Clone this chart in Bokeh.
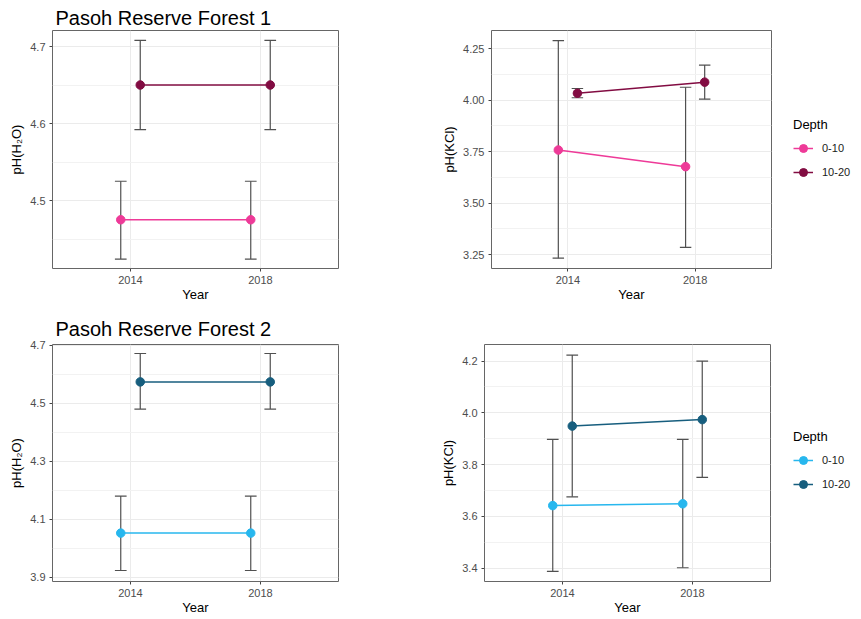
from bokeh.plotting import figure
from bokeh.layouts import column, row
from bokeh.models import (FixedTicker, NumeralTickFormatter, Range1d, Legend, LegendItem)
from bokeh.embed import file_html
from bokeh.resources import INLINE

# ---------------- data ----------------
years = [2014, 2018]
depths = ["0-10", "10-20"]

# Forest 1, pH(H2O)
f1_h2o_mean_0_10 = [4.475, 4.475]
f1_h2o_lo_0_10 = [4.424, 4.424]
f1_h2o_hi_0_10 = [4.525, 4.525]
f1_h2o_mean_10_20 = [4.650, 4.650]
f1_h2o_lo_10_20 = [4.592, 4.592]
f1_h2o_hi_10_20 = [4.708, 4.708]

# Forest 1, pH(KCl)
f1_kcl_mean_0_10 = [3.758, 3.677]
f1_kcl_lo_0_10 = [3.232, 3.285]
f1_kcl_hi_0_10 = [4.290, 4.063]
f1_kcl_mean_10_20 = [4.034, 4.088]
f1_kcl_lo_10_20 = [4.012, 4.005]
f1_kcl_hi_10_20 = [4.057, 4.171]

# Forest 2, pH(H2O)
f2_h2o_mean_0_10 = [4.052, 4.052]
f2_h2o_lo_0_10 = [3.923, 3.923]
f2_h2o_hi_0_10 = [4.180, 4.180]
f2_h2o_mean_10_20 = [4.574, 4.574]
f2_h2o_lo_10_20 = [4.480, 4.480]
f2_h2o_hi_10_20 = [4.672, 4.672]

# Forest 2, pH(KCl)
f2_kcl_mean_0_10 = [3.642, 3.649]
f2_kcl_lo_0_10 = [3.388, 3.402]
f2_kcl_hi_0_10 = [3.898, 3.898]
f2_kcl_mean_10_20 = [3.949, 3.974]
f2_kcl_lo_10_20 = [3.676, 3.751]
f2_kcl_hi_10_20 = [4.223, 4.200]

f1_h2o_ticks = [4.5, 4.6, 4.7]
f1_h2o_minor = [4.45, 4.55, 4.65]
f1_kcl_ticks = [3.25, 3.50, 3.75, 4.00, 4.25]
f1_kcl_minor = [3.375, 3.625, 3.875, 4.125]
f2_h2o_ticks = [3.9, 4.1, 4.3, 4.5, 4.7]
f2_h2o_minor = [4.0, 4.2, 4.4, 4.6]
f2_kcl_ticks = [3.4, 3.6, 3.8, 4.0, 4.2]
f2_kcl_minor = [3.5, 3.7, 3.9, 4.1]

titles = ["Pasoh Reserve Forest 1", "Pasoh Reserve Forest 2"]
colors_f1 = ["#EE3A98", "#820C42"]
colors_f2 = ["#27B7EE", "#175E7E"]

# ---------------- style ----------------
FONT = "Liberation Sans"
DODGE = 0.3
CAP = 0.36
ERR_COLOR = "#505050"
X_RANGE = (2011.6, 2020.4)
LINE_W = 1.5
PT_SIZE = 8.5


def make_fig(width, height, left, right, top, bottom, yrange, ticks, minor, fmt, ylabel):
    p = figure(width=width, height=height, output_backend="svg", toolbar_location=None,
               x_range=Range1d(*X_RANGE), y_range=Range1d(*yrange),
               min_border_left=left, min_border_right=right,
               min_border_top=top, min_border_bottom=bottom)
    p.outline_line_color = "#666666"
    p.outline_line_width = 1
    p.background_fill_color = "white"
    p.border_fill_color = "white"
    p.xaxis.ticker = FixedTicker(ticks=years)
    p.yaxis.ticker = FixedTicker(ticks=ticks, minor_ticks=minor)
    p.yaxis.formatter = NumeralTickFormatter(format=fmt)
    for ax in (p.xaxis[0], p.yaxis[0]):
        ax.axis_line_color = None
        ax.major_tick_line_color = "#444444"
        ax.major_tick_out = 3
        ax.major_tick_in = 0
        ax.minor_tick_line_color = None
        ax.major_label_text_font = FONT
        ax.major_label_text_font_size = "11px"
        ax.major_label_text_color = "#4D4D4D"
        ax.axis_label_text_font = FONT
        ax.axis_label_text_font_size = "13px"
        ax.axis_label_text_font_style = "normal"
        ax.axis_label_text_color = "black"
    p.xaxis.major_label_standoff = 4
    p.xaxis.axis_label_standoff = 0
    p.yaxis.major_label_standoff = 3
    p.yaxis.axis_label_standoff = 3
    p.xaxis.axis_label = "Year"
    p.yaxis.axis_label = ylabel
    p.xgrid.grid_line_color = "#EBEBEB"
    p.ygrid.grid_line_color = "#EBEBEB"
    p.ygrid.minor_grid_line_color = "#F2F2F2"
    p.ygrid.minor_grid_line_width = 1
    return p


def draw(p, means, los, his, colors, offsets):
    items = []
    for mean, lo, hi, col, off in zip(means, los, his, colors, offsets):
        xs = [y + off for y in years]
        p.segment(x0=xs, y0=lo, x1=xs, y1=hi, line_color=ERR_COLOR, line_width=1.2)
        p.segment(x0=[x - CAP / 2 for x in xs], y0=lo, x1=[x + CAP / 2 for x in xs], y1=lo,
                  line_color=ERR_COLOR, line_width=1.2)
        p.segment(x0=[x - CAP / 2 for x in xs], y0=hi, x1=[x + CAP / 2 for x in xs], y1=hi,
                  line_color=ERR_COLOR, line_width=1.2)
        items.append((xs, mean, col))
    for xs, mean, col in items:
        p.line(x=xs, y=mean, line_color=col, line_width=LINE_W)
        p.scatter(x=xs, y=mean, size=PT_SIZE, fill_color=col, line_color=col)


def legend_fig(width, height, means, colors, loc):
    # a narrow side figure that only carries the "Depth" legend; its renderers
    # hold the series data but lie outside its own (0..1) ranges
    lf = figure(width=width, height=height, output_backend="svg", toolbar_location=None,
                x_range=Range1d(0, 1), y_range=Range1d(0, 1),
                min_border=0, x_axis_type=None, y_axis_type=None)
    lf.outline_line_color = None
    lf.grid.visible = False
    lf.background_fill_color = "white"
    lf.border_fill_color = "white"
    items = []
    for lab, mean, col in zip(depths, means, colors):
        lr = lf.line(x=years, y=mean, line_color=col, line_width=LINE_W)
        sr = lf.scatter(x=years, y=mean, size=PT_SIZE, fill_color=col, line_color=col)
        items.append(LegendItem(label=lab, renderers=[lr, sr]))
    leg = Legend(items=items, location=loc, title="Depth")
    leg.title_text_font = FONT
    leg.title_text_font_size = "13px"
    leg.title_text_font_style = "normal"
    leg.title_text_color = "black"
    leg.title_standoff = 6
    leg.label_text_font = FONT
    leg.label_text_font_size = "11px"
    leg.label_text_color = "#1A1A1A"
    leg.glyph_width = 20
    leg.glyph_height = 20
    leg.label_standoff = 9
    leg.spacing = 4
    leg.padding = 0
    leg.margin = 0
    leg.border_line_color = None
    leg.background_fill_alpha = 0
    lf.add_layout(leg, "center")
    return lf


def set_title(p, text, standoff):
    p.title.text = text
    p.title.text_font = FONT
    p.title.text_font_size = "20px"
    p.title.text_font_style = "normal"
    p.title.text_color = "black"
    p.title.standoff = standoff
    p.title.offset = 3


offs = [-DODGE, DODGE]

# Panel 1 (page x 0-400, y 0-308)
p1 = make_fig(400, 308, 52, 62, 30, 40, (4.4117, 4.7208), f1_h2o_ticks, f1_h2o_minor, "0.0", "pH(H₂O)")
set_title(p1, titles[0], 3)
draw(p1, [f1_h2o_mean_0_10, f1_h2o_mean_10_20], [f1_h2o_lo_0_10, f1_h2o_lo_10_20],
     [f1_h2o_hi_0_10, f1_h2o_hi_10_20], colors_f1, offs)

# Panel 2 (page x 400-772) + legend (772-861)
p2 = make_fig(372, 308, 91, 1, 29, 40, (3.182, 4.339), f1_kcl_ticks, f1_kcl_minor, "0.00", "pH(KCl)")
draw(p2, [f1_kcl_mean_0_10, f1_kcl_mean_10_20], [f1_kcl_lo_0_10, f1_kcl_lo_10_20],
     [f1_kcl_hi_0_10, f1_kcl_hi_10_20], colors_f1, offs)
l2 = legend_fig(89, 308, [f1_kcl_mean_0_10, f1_kcl_mean_10_20], colors_f1, (21, 86))

# Panel 3 (page y 308-619)
p3 = make_fig(400, 311, 52, 62, 36, 37, (3.885, 4.703), f2_h2o_ticks, f2_h2o_minor, "0.0", "pH(H₂O)")
set_title(p3, titles[1], 10)
draw(p3, [f2_h2o_mean_0_10, f2_h2o_mean_10_20], [f2_h2o_lo_0_10, f2_h2o_lo_10_20],
     [f2_h2o_hi_0_10, f2_h2o_hi_10_20], colors_f2, offs)

# Panel 4 (page x 400-771) + legend (771-861)
p4 = make_fig(371, 311, 84, 1, 34, 38, (3.349, 4.264), f2_kcl_ticks, f2_kcl_minor, "0.0", "pH(KCl)")
draw(p4, [f2_kcl_mean_0_10, f2_kcl_mean_10_20], [f2_kcl_lo_0_10, f2_kcl_lo_10_20],
     [f2_kcl_hi_0_10, f2_kcl_hi_10_20], colors_f2, offs)
l4 = legend_fig(90, 311, [f2_kcl_mean_0_10, f2_kcl_mean_10_20], colors_f2, (22, 87))

layout = column(row(p1, p2, l2), row(p3, p4, l4))

with open("out.html", "w") as f:
    f.write(file_html(layout, INLINE))
